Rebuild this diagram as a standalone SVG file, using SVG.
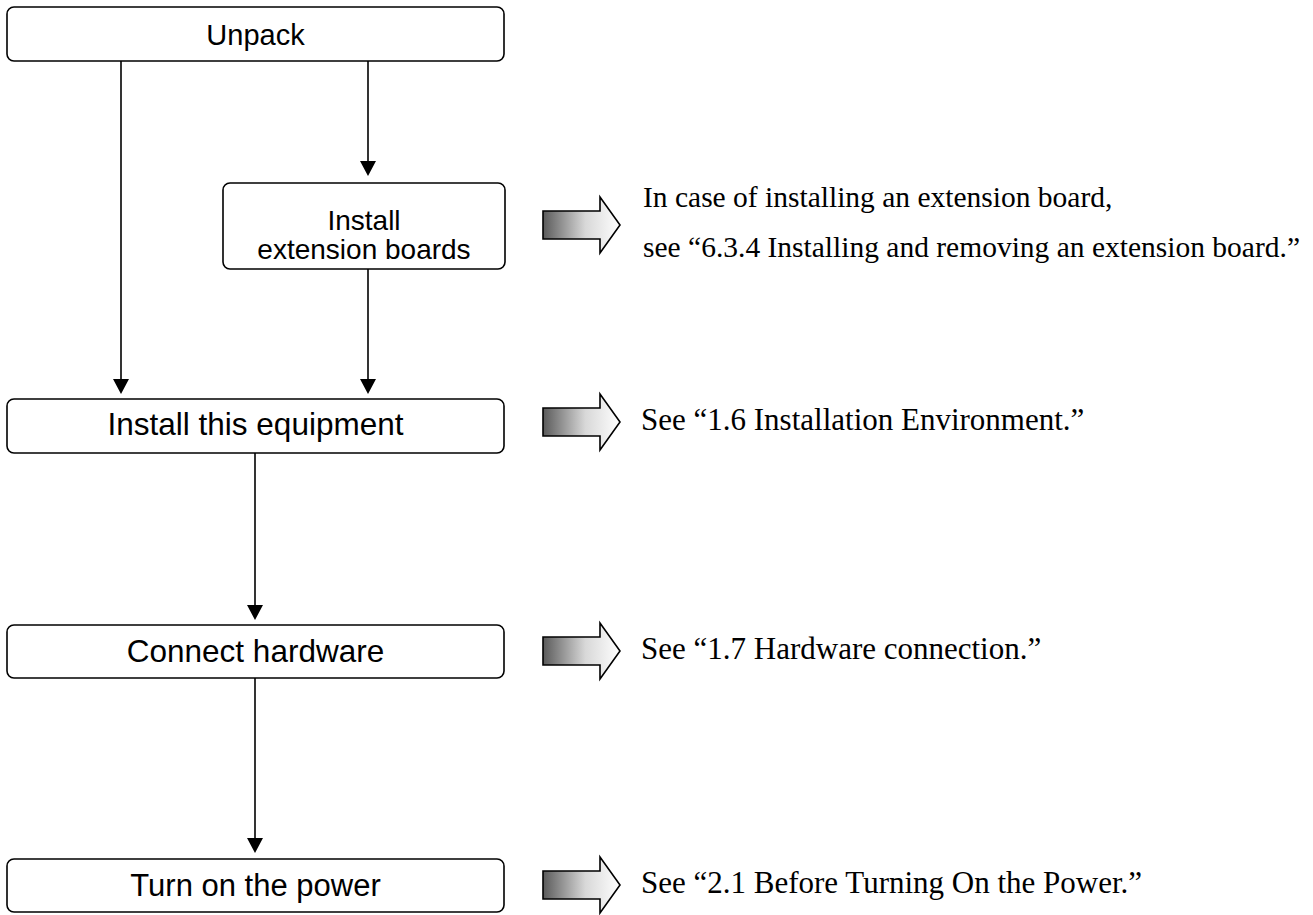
<svg xmlns="http://www.w3.org/2000/svg" width="1313" height="915" viewBox="0 0 1313 915">
<defs>
<linearGradient id="grad" x1="0" y1="0" x2="1" y2="0">
<stop offset="0" stop-color="#5a5a5a"/>
<stop offset="0.55" stop-color="#d8d8d8"/>
<stop offset="1" stop-color="#ffffff"/>
</linearGradient>
<path id="barrow" d="M0,-14 L57,-14 L57,-28 L77,0 L57,28 L57,14 L0,14 Z"/>
</defs>
<style>
.box{fill:#fff;stroke:#000;stroke-width:1.6}
.lbl{font-family:"Liberation Sans",Arial,sans-serif;font-size:31px;fill:#000;text-anchor:middle}
.note{font-family:"Liberation Serif","Times New Roman",serif;font-size:31px;fill:#000}
.conn{stroke:#000;stroke-width:1.6;fill:none}
.head{fill:#000}
.ba{fill:url(#grad);stroke:#000;stroke-width:1.6}
</style>
<rect width="1313" height="915" fill="#fff"/>
<g id="connectors">
<line class="conn" x1="121" y1="61" x2="121" y2="379"/>
<path class="head" d="M113,379 L129,379 L121,394 Z"/>
<line class="conn" x1="368" y1="61" x2="368" y2="161"/>
<path class="head" d="M360,161 L376,161 L368,176 Z"/>
<line class="conn" x1="368" y1="269" x2="368" y2="379"/>
<path class="head" d="M360,379 L376,379 L368,394 Z"/>
<line class="conn" x1="255" y1="453" x2="255" y2="605"/>
<path class="head" d="M247,605 L263,605 L255,620 Z"/>
<line class="conn" x1="255" y1="678" x2="255" y2="838"/>
<path class="head" d="M247,838 L263,838 L255,853 Z"/>
</g>
<g id="unpack">
<rect class="box" x="7" y="7" width="497" height="54" rx="7"/>
<text class="lbl" x="255.5" y="45" style="font-size:29px">Unpack</text>
</g>
<g id="install-ext">
<rect class="box" x="223" y="183" width="282" height="86" rx="7"/>
<text class="lbl" x="364" y="230" style="font-size:28px">Install</text>
<text class="lbl" x="364" y="259" style="font-size:28px">extension boards</text>
</g>
<g id="install-equip">
<rect class="box" x="7" y="399" width="497" height="54" rx="7"/>
<text class="lbl" x="255.5" y="435" style="font-size:31.5px">Install this equipment</text>
</g>
<g id="connect">
<rect class="box" x="7" y="625" width="497" height="53" rx="7"/>
<text class="lbl" x="255.5" y="662" style="font-size:31.5px">Connect hardware</text>
</g>
<g id="power">
<rect class="box" x="7" y="859" width="497" height="53" rx="7"/>
<text class="lbl" x="255.5" y="896">Turn on the power</text>
</g>
<g id="note-ext">
<use href="#barrow" class="ba" x="543" y="225"/>
<text class="note" x="643" y="207" style="font-size:29.5px">In case of installing an extension board,</text>
<text class="note" x="643" y="257" style="font-size:29.5px">see “6.3.4 Installing and removing an extension board.”</text>
</g>
<g id="note-equip">
<use href="#barrow" class="ba" x="543" y="422"/>
<text class="note" x="641" y="430">See “1.6 Installation Environment.”</text>
</g>
<g id="note-hw">
<use href="#barrow" class="ba" x="543" y="651"/>
<text class="note" x="641" y="659">See “1.7 Hardware connection.”</text>
</g>
<g id="note-power">
<use href="#barrow" class="ba" x="543" y="885"/>
<text class="note" x="641" y="893">See “2.1 Before Turning On the Power.”</text>
</g>
</svg>
